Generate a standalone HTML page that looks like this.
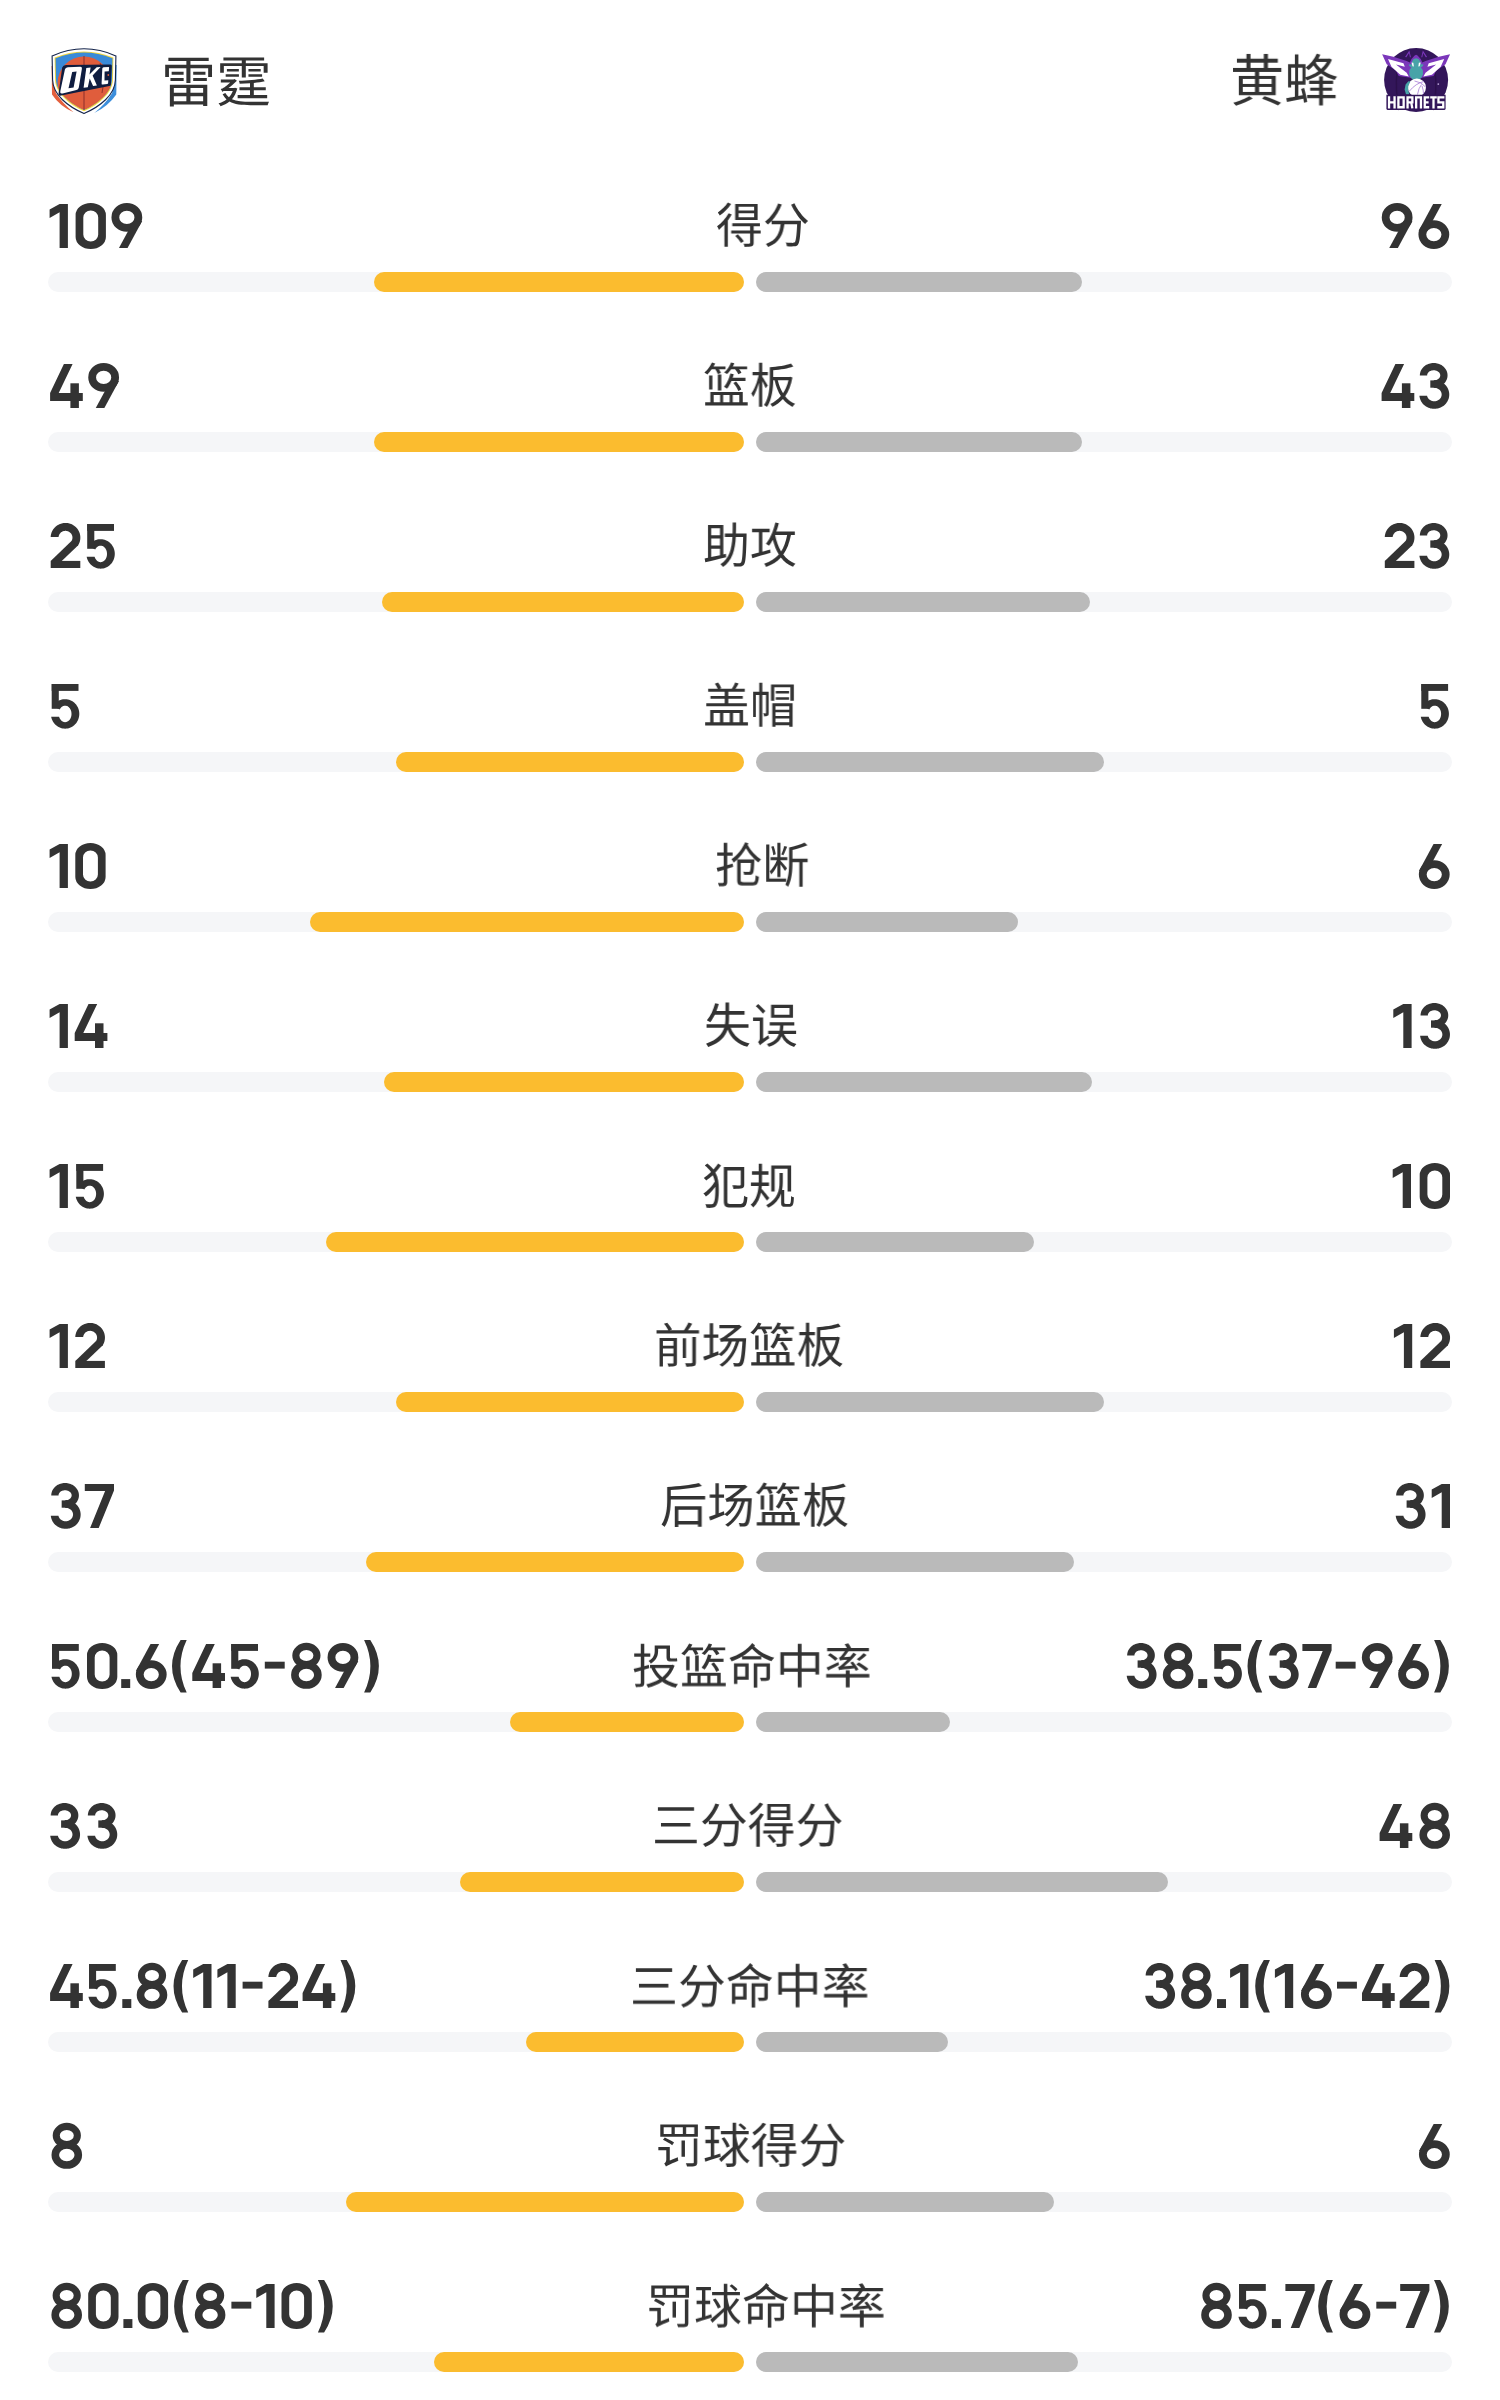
<!DOCTYPE html>
<html lang="zh-CN"><head><meta charset="utf-8"><style>
html,body{margin:0;padding:0;background:#fff;}
body{width:1500px;height:2400px;position:relative;overflow:hidden;font-family:"Liberation Sans",sans-serif;color:#333;text-rendering:geometricPrecision;}
span{position:absolute;white-space:nowrap;line-height:1;will-change:transform;transform-origin:0 0;}
.c{font-size:48px;}
.t{font-size:55px;}
.tr{position:absolute;height:20px;border-radius:10px;background:#f5f6f8;width:696px;}
.y{position:absolute;height:20px;border-radius:10px;background:#fbbc2f;}
.g{position:absolute;height:20px;border-radius:10px;background:#bababa;}
#num{position:absolute;left:0;top:0;}
</style></head><body>

<span class="t" style="left:160.51px;top:55.78px;transform:scale(1.0029,1.0082)">雷霆</span>
<span class="t" style="left:1229.82px;top:53.82px;transform:scale(0.9849,1.0197)">黄蜂</span>
<svg style="position:absolute;left:46px;top:44px" width="76" height="74" viewBox="0 0 76 74">
<defs><clipPath id="shin"><path d="M9.5,14.2 Q38,3 66.5,14.2 L66,36 C65.6,48.5 51,60 38,66 C25,60 10.4,48.5 10,36 Z"/></clipPath></defs>
<path d="M5.6,22 L9.6,22 L9.8,49 Q17,60 27.6,68.2 Q14,62.5 6,50.5 Z" fill="#e4603e"/>
<path d="M70.6,21 L66.4,21 L66.2,49 Q59,60.5 48.2,69 Q62,62.5 70.3,50.5 Z" fill="#3d8fdc"/>
<path d="M6.1,11.9 Q38,-2.3 69.9,11.9 L69.4,36 C69,51 54,62.5 38,69.6 C22,62.5 7,51 6.6,36 Z" fill="#fff" stroke="#13234a" stroke-width="1.1"/>
<path d="M8.6,13.6 Q38,1.2 67.4,13.6 L66.9,36 C66.5,49.5 52,61 38,67.3 C24,61 9.5,49.5 9.1,36 Z" fill="#f6d83a"/>
<g clip-path="url(#shin)">
<rect x="0" y="0" width="76" height="74" fill="#3a8ad8"/>
<circle cx="38" cy="38.8" r="26.4" fill="#e05d3c"/><path d="M14,52 Q38,80 62,52 L62,70 L14,70 Z" fill="#e05d3c"/>
<path d="M38,12 L38,70" stroke="#8c2f2b" stroke-width="1"/>
<path d="M54,19 Q60,32 56,49" stroke="#8c2f2b" stroke-width="0.9" fill="none"/>
</g>
<path d="M16.2,23.6 Q17,21.2 20,21 L64.6,20.6 Q66,20.6 65.8,22.2 L64.9,40.4 Q64.8,41.6 63.4,41.9 L15.2,51.6 Q12,52.3 12.6,49.2 Z" fill="#0f1d40"/>
<path fill-rule="evenodd" d="M18.9,25.6 Q19.4,23.4 21.8,23.3 L34.2,22.8 Q36.3,22.7 35.9,24.8 L32.8,43.4 Q32.4,45.5 30.4,45.9 L16.6,49.4 Q13.7,50.1 14.3,47.3 Z M26.2,27.9 L30.6,27.5 L27.6,43.4 L22.5,44.2 Z" fill="#fff"/>
<path d="M40.3,23.9 L44.6,23.6 L43.5,30.5 L50.7,23.3 L54.6,23.1 L46.6,31.4 L50.9,41.4 L47.1,42.1 L43.7,34.5 L41.8,43.2 L37.6,43.8 Z" fill="#fff"/>
<path d="M57.6,23.3 L62.6,23.0 Q63.2,23 63.1,23.8 L62.8,27.3 L58.6,27.6 L58.5,36.6 L62.3,36.2 L62.1,39.2 Q62,39.9 61.2,40 L56.8,40.6 Q55.5,40.7 55.6,39.4 L56.3,24.6 Q56.4,23.4 57.6,23.3 Z" fill="#fff"/>
<circle cx="62.3" cy="31" r="0.9" fill="#e05d3c"/>
</svg>
<svg style="position:absolute;left:1370px;top:40px" width="90" height="80" viewBox="0 0 90 80">
<circle cx="46.1" cy="40" r="32" fill="#33165a"/>
<path d="M27,32 Q25,50 29,70 M65.2,32 Q67.2,50 63.2,70" fill="none" stroke="#2b104b" stroke-width="1.4"/>
<path d="M12.13,14.13 L23.33,16.80 L36.67,21.07 L39.87,22.40 L41.47,18.93 L44.67,15.47 L46.10,14.80 L47.53,15.47 L50.73,18.93 L52.33,22.40 L55.53,21.07 L68.87,16.80 L80.07,14.13 L75.53,24.27 L66.20,30.67 L63.53,36.00 L52.87,37.60 L47.53,39.47 L46.10,40.50 L44.67,39.47 L39.33,37.60 L28.67,36.00 L26.00,30.67 L16.67,24.27 Z" fill="#7b37ba"/>
<path d="M18.00,18.93 L33.47,23.20 L34.80,26.67 L26.00,24.53 L30.80,28.27 L36.67,32.80 L38.80,36.53 L30.27,34.67 L21.47,26.67 Z" fill="#fff"/><path d="M74.20,18.93 L58.73,23.20 L57.40,26.67 L66.20,24.53 L61.40,28.27 L55.53,32.80 L53.40,36.53 L61.93,34.67 L70.73,26.67 Z" fill="#fff"/>
<path d="M35.07,17.07 L39.33,10.40 L40.93,17.33 L39.87,17.33 L39.07,13.07 L36.40,17.33 Z" fill="#7b37ba"/><path d="M57.13,17.07 L52.87,10.40 L51.27,17.33 L52.33,17.33 L53.13,13.07 L55.80,17.33 Z" fill="#7b37ba"/>
<path d="M46.10,18.20 L48.60,19.00 L50.20,21.50 L50.60,24.20 L53.60,24.60 L52.60,26.30 L50.80,27.60 L52.80,30.00 L53.00,34.50 L51.50,37.50 L49.50,39.60 L42.70,39.60 L40.70,37.50 L39.20,34.50 L39.40,30.00 L41.40,27.60 L39.60,26.30 L38.60,24.60 L41.60,24.20 L42.00,21.50 L43.60,19.00 Z" fill="#48a3a8"/>
<path d="M41.47,22.40 L43.33,22.67 L43.87,26.40 L42.53,26.13 Z" fill="#fff"/><path d="M50.73,22.40 L48.87,22.67 L48.33,26.40 L49.67,26.13 Z" fill="#fff"/>
<circle cx="46.9" cy="47.5" r="9.1" fill="#fff"/>
<path d="M38.40,41.20 L40.40,41.50 L38.30,46.00 L38.20,50.50 L39.40,54.20 L36.00,54.20 L34.60,49.50 L35.60,44.50 Z" fill="#48a3a8"/>
<path d="M39,51.5 Q46,43 54,41.5 M44.5,41 Q52,42 55.5,47 M47.5,54.5 Q48.5,48 51.5,44.5 M53.5,54 Q53.5,50 52,46" fill="none" stroke="#a77bd6" stroke-width="0.8"/>
<circle cx="68.3" cy="44.1" r="0.9" fill="#b9a6d6"/>
<path d="M16.4,54.7 L75.6,54.7 L75.6,68.5 Q75.6,70 74,70 L18,70 Q16.4,70 16.4,68.5 Z" fill="#33165a"/>
<g fill="none" stroke="#fff" stroke-width="2.3" stroke-linejoin="miter">
<path d="M19.05,56.3 L19.05,68.4 M24.55,56.3 L24.55,68.4 M19,62.3 L24.6,62.3"/>
<path d="M28.4,57.45 L33.65,57.45 L33.65,67.25 L28.4,67.25 Z"/>
<path d="M37.55,68.4 L37.55,57.45 L42.35,57.45 L42.35,62.4 L37.6,62.4 M41.2,62.4 L42.35,68.4"/>
<path d="M46.15,68.4 L46.15,57.45 L50.95,57.45 L50.95,68.4"/>
<path d="M59.2,57.45 L54.75,57.45 L54.75,67.25 L59.2,67.25 M54.7,62.3 L58.6,62.3"/>
<path d="M60.2,57.45 L66.8,57.45 M63.5,57.4 L63.5,68.4"/>
<path d="M74.4,57.45 L68.45,57.45 L68.45,62.3 L73.25,62.3 L73.25,67.25 L67.3,67.25"/>
</g>
</svg>
<div class="tr" style="left:48px;top:272px"></div><div class="tr" style="left:756px;top:272px"></div>
<div class="y" style="left:374.00px;top:272px;width:370.00px"></div>
<div class="g" style="left:756px;top:272px;width:326.00px"></div>
<span class="c" style="left:715.73px;top:203.85px;transform:scale(0.9763,1.0045)">得分</span>
<div class="tr" style="left:48px;top:432px"></div><div class="tr" style="left:756px;top:432px"></div>
<div class="y" style="left:374.00px;top:432px;width:370.00px"></div>
<div class="g" style="left:756px;top:432px;width:326.00px"></div>
<span class="c" style="left:703.29px;top:364.22px;transform:scale(0.9742,1.0000)">篮板</span>
<div class="tr" style="left:48px;top:592px"></div><div class="tr" style="left:756px;top:592px"></div>
<div class="y" style="left:382.00px;top:592px;width:362.00px"></div>
<div class="g" style="left:756px;top:592px;width:334.00px"></div>
<span class="c" style="left:702.68px;top:524.45px;transform:scale(0.9763,1.0023)">助攻</span>
<div class="tr" style="left:48px;top:752px"></div><div class="tr" style="left:756px;top:752px"></div>
<div class="y" style="left:396.00px;top:752px;width:348.00px"></div>
<div class="g" style="left:756px;top:752px;width:348.00px"></div>
<span class="c" style="left:702.52px;top:684.12px;transform:scale(0.9790,1.0023)">盖帽</span>
<div class="tr" style="left:48px;top:912px"></div><div class="tr" style="left:756px;top:912px"></div>
<div class="y" style="left:310.00px;top:912px;width:434.00px"></div>
<div class="g" style="left:756px;top:912px;width:262.00px"></div>
<span class="c" style="left:714.89px;top:844.40px;transform:scale(0.9838,0.9933)">抢断</span>
<div class="tr" style="left:48px;top:1072px"></div><div class="tr" style="left:756px;top:1072px"></div>
<div class="y" style="left:384.00px;top:1072px;width:360.00px"></div>
<div class="g" style="left:756px;top:1072px;width:336.00px"></div>
<span class="c" style="left:703.60px;top:1004.24px;transform:scale(0.9783,1.0023)">失误</span>
<div class="tr" style="left:48px;top:1232px"></div><div class="tr" style="left:756px;top:1232px"></div>
<div class="y" style="left:326.00px;top:1232px;width:418.00px"></div>
<div class="g" style="left:756px;top:1232px;width:278.00px"></div>
<span class="c" style="left:701.97px;top:1164.72px;transform:scale(0.9773,1.0114)">犯规</span>
<div class="tr" style="left:48px;top:1392px"></div><div class="tr" style="left:756px;top:1392px"></div>
<div class="y" style="left:396.00px;top:1392px;width:348.00px"></div>
<div class="g" style="left:756px;top:1392px;width:348.00px"></div>
<span class="c" style="left:654.14px;top:1324.22px;transform:scale(0.9899,1.0000)">前场篮板</span>
<div class="tr" style="left:48px;top:1552px"></div><div class="tr" style="left:756px;top:1552px"></div>
<div class="y" style="left:366.00px;top:1552px;width:378.00px"></div>
<div class="g" style="left:756px;top:1552px;width:318.00px"></div>
<span class="c" style="left:660.02px;top:1484.10px;transform:scale(0.9852,1.0000)">后场篮板</span>
<div class="tr" style="left:48px;top:1712px"></div><div class="tr" style="left:756px;top:1712px"></div>
<div class="y" style="left:510.00px;top:1712px;width:234.00px"></div>
<div class="g" style="left:756px;top:1712px;width:194.00px"></div>
<span class="c" style="left:632.44px;top:1645.00px;transform:scale(0.9987,0.9911)">投篮命中率</span>
<div class="tr" style="left:48px;top:1872px"></div><div class="tr" style="left:756px;top:1872px"></div>
<div class="y" style="left:460.00px;top:1872px;width:284.00px"></div>
<div class="g" style="left:756px;top:1872px;width:412.00px"></div>
<span class="c" style="left:652.36px;top:1803.85px;transform:scale(0.9968,1.0045)">三分得分</span>
<div class="tr" style="left:48px;top:2032px"></div><div class="tr" style="left:756px;top:2032px"></div>
<div class="y" style="left:526.00px;top:2032px;width:218.00px"></div>
<div class="g" style="left:756px;top:2032px;width:192.00px"></div>
<span class="c" style="left:629.93px;top:1965.00px;transform:scale(0.9979,0.9889)">三分命中率</span>
<div class="tr" style="left:48px;top:2192px"></div><div class="tr" style="left:756px;top:2192px"></div>
<div class="y" style="left:346.00px;top:2192px;width:398.00px"></div>
<div class="g" style="left:756px;top:2192px;width:298.00px"></div>
<span class="c" style="left:654.77px;top:2123.90px;transform:scale(0.9963,1.0023)">罚球得分</span>
<div class="tr" style="left:48px;top:2352px"></div><div class="tr" style="left:756px;top:2352px"></div>
<div class="y" style="left:434.00px;top:2352px;width:310.00px"></div>
<div class="g" style="left:756px;top:2352px;width:322.00px"></div>
<span class="c" style="left:646.47px;top:2285.02px;transform:scale(0.9991,0.9911)">罚球命中率</span>
<svg id="num" width="1500" height="2400" viewBox="0 0 1500 2400"><defs><g id="d0"><path fill-rule="evenodd" d="M0,11 A15.15,12 0 0 1 30.3,11 L30.3,33 A15.15,12 0 0 1 0,33 Z M7.7,13.6 A7.45,7.2 0 0 1 22.6,13.6 L22.6,30.4 A7.45,7.2 0 0 1 7.7,30.4 Z"/></g><g id="d1"><path d="M0,5.6 L10,0 L18.3,0 L18.3,44 L10,44 L10,8.2 L0,14 Z"/></g><g id="d2"><path d="M-0.04,13.00 L0.02,12.15 L0.13,11.31 L0.29,10.48 L0.50,9.65 L0.76,8.84 L1.06,8.04 L1.41,7.27 L1.80,6.51 L2.24,5.78 L2.72,5.08 L3.24,4.40 L3.80,3.76 L4.40,3.14 L5.03,2.57 L5.70,2.03 L6.39,1.53 L7.11,1.06 L7.86,0.65 L8.64,0.27 L9.43,-0.06 L10.24,-0.34 L11.07,-0.58 L11.91,-0.77 L12.76,-0.91 L13.61,-1.00 L14.47,-1.05 L15.33,-1.04 L16.19,-0.99 L17.05,-0.88 L17.89,-0.73 L18.73,-0.53 L19.55,-0.28 L20.36,0.02 L21.15,0.36 L21.92,0.74 L22.66,1.17 L23.38,1.64 L24.07,2.15 L24.72,2.70 L25.35,3.29 L25.94,3.91 L26.49,4.56 L27.00,5.24 L27.47,5.96 L27.90,6.69 L28.28,7.45 L28.62,8.23 L28.91,9.03 L29.15,9.85 L29.35,10.67 L29.50,11.51 L29.60,12.36 L29.64,13.20 L29.64,14.05 L29.59,14.90 L29.49,15.74 L29.34,16.58 L29.14,17.41 L28.89,18.22 L28.60,19.02 L28.26,19.80 L27.87,20.56 L27.44,21.29 L26.96,22.00 L20.49,17.47 L20.71,17.15 L20.91,16.81 L21.09,16.47 L21.25,16.12 L21.39,15.75 L21.50,15.38 L21.60,15.01 L21.67,14.63 L21.72,14.24 L21.74,13.86 L21.75,13.47 L21.73,13.09 L21.69,12.70 L21.62,12.32 L21.54,11.94 L21.43,11.57 L21.30,11.21 L21.15,10.85 L20.98,10.50 L20.78,10.16 L20.57,9.84 L20.34,9.52 L20.09,9.22 L19.82,8.94 L19.54,8.66 L19.24,8.41 L18.93,8.17 L18.60,7.95 L18.26,7.75 L17.91,7.56 L17.55,7.40 L17.18,7.26 L16.81,7.14 L16.42,7.04 L16.03,6.96 L15.64,6.90 L15.24,6.86 L14.85,6.85 L14.45,6.86 L14.05,6.89 L13.66,6.94 L13.27,7.02 L12.88,7.11 L12.50,7.23 L12.13,7.37 L11.77,7.53 L11.42,7.70 L11.07,7.90 L10.74,8.12 L10.43,8.35 L10.13,8.60 L9.84,8.87 L9.57,9.16 L9.32,9.45 L9.08,9.77 L8.86,10.09 L8.67,10.43 L8.49,10.77 L8.33,11.13 L8.20,11.49 L8.08,11.86 L7.99,12.24 L7.92,12.62 L7.88,13.00 Z"/><path d="M20.76,17.08 L27.53,21.15 L11.03,36.90 L0.00,36.90 Z"/><rect x="0" y="36.9" width="29.6" height="7.1"/></g><g id="d3"><path d="M0.55,11.60 L0.57,10.69 L0.66,9.78 L0.83,8.88 L1.07,7.99 L1.39,7.12 L1.77,6.28 L2.23,5.46 L2.75,4.67 L3.33,3.92 L3.98,3.21 L4.68,2.55 L5.44,1.93 L6.24,1.37 L7.09,0.86 L7.98,0.41 L8.91,0.01 L9.86,-0.32 L10.84,-0.58 L11.84,-0.79 L12.85,-0.92 L13.87,-0.99 L14.90,-0.99 L15.92,-0.93 L16.93,-0.79 L17.93,-0.59 L18.91,-0.33 L19.86,0.00 L20.79,0.39 L21.68,0.84 L22.53,1.35 L23.34,1.91 L24.09,2.53 L24.80,3.19 L25.45,3.90 L26.03,4.65 L26.56,5.43 L27.01,6.25 L27.40,7.09 L27.72,7.96 L27.96,8.85 L28.13,9.75 L28.23,10.66 L28.25,11.57 L28.19,12.48 L28.06,13.39 L27.85,14.28 L27.57,15.16 L27.22,16.02 L26.80,16.85 L26.31,17.65 L25.76,18.42 L25.14,19.15 L24.46,19.83 L23.73,20.47 L22.95,21.06 L22.12,21.60 L21.25,22.08 L20.35,22.50 L19.40,22.87 L18.44,23.16 L17.45,23.40 L16.44,23.57 L15.42,23.67 L14.40,23.70 L14.40,16.40 L14.89,16.39 L15.37,16.34 L15.85,16.27 L16.32,16.18 L16.78,16.05 L17.23,15.91 L17.66,15.73 L18.07,15.53 L18.47,15.31 L18.84,15.07 L19.18,14.80 L19.50,14.52 L19.79,14.22 L20.05,13.90 L20.28,13.57 L20.48,13.22 L20.65,12.87 L20.78,12.51 L20.87,12.14 L20.93,11.77 L20.95,11.39 L20.94,11.02 L20.89,10.64 L20.80,10.27 L20.68,9.91 L20.52,9.55 L20.33,9.21 L20.11,8.87 L19.85,8.55 L19.57,8.25 L19.26,7.96 L18.92,7.69 L18.55,7.44 L18.16,7.22 L17.75,7.01 L17.33,6.83 L16.88,6.68 L16.42,6.55 L15.96,6.44 L15.48,6.37 L15.00,6.32 L14.51,6.30 L14.02,6.31 L13.54,6.34 L13.06,6.41 L12.58,6.50 L12.12,6.62 L11.67,6.76 L11.24,6.93 L10.82,7.12 L10.42,7.34 L10.04,7.58 L9.69,7.84 L9.37,8.12 L9.07,8.42 L8.80,8.73 L8.56,9.06 L8.36,9.40 L8.19,9.75 L8.05,10.11 L7.95,10.48 L7.88,10.85 L7.85,11.22 L7.86,11.60 Z"/><path d="M15.00,16.25 L16.08,16.29 L17.15,16.40 L18.22,16.58 L19.26,16.84 L20.28,17.17 L21.28,17.57 L22.24,18.04 L23.17,18.57 L24.05,19.17 L24.89,19.82 L25.67,20.53 L26.40,21.30 L27.07,22.11 L27.67,22.96 L28.21,23.86 L28.68,24.79 L29.08,25.75 L29.41,26.74 L29.66,27.74 L29.83,28.76 L29.93,29.79 L29.95,30.82 L29.89,31.85 L29.75,32.88 L29.54,33.89 L29.25,34.89 L28.88,35.86 L28.44,36.80 L27.94,37.72 L27.36,38.59 L26.72,39.42 L26.02,40.21 L25.27,40.95 L24.45,41.63 L23.59,42.25 L22.69,42.81 L21.74,43.31 L20.76,43.75 L19.75,44.11 L18.71,44.40 L17.66,44.62 L16.59,44.77 L15.51,44.84 L14.43,44.84 L13.35,44.76 L12.29,44.61 L11.23,44.39 L10.20,44.09 L9.19,43.72 L8.21,43.29 L7.26,42.79 L6.36,42.22 L5.50,41.59 L4.69,40.91 L3.94,40.17 L3.24,39.38 L2.61,38.55 L2.03,37.67 L1.53,36.76 L1.10,35.81 L0.74,34.83 L0.45,33.84 L0.24,32.83 L0.11,31.80 L7.78,31.80 L7.89,32.26 L8.04,32.72 L8.23,33.16 L8.45,33.59 L8.70,34.00 L8.98,34.40 L9.30,34.78 L9.64,35.13 L10.01,35.47 L10.40,35.78 L10.82,36.06 L11.25,36.31 L11.71,36.54 L12.18,36.74 L12.67,36.90 L13.17,37.04 L13.68,37.14 L14.19,37.21 L14.71,37.24 L15.23,37.25 L15.75,37.22 L16.26,37.15 L16.77,37.05 L17.27,36.92 L17.76,36.76 L18.23,36.57 L18.69,36.35 L19.13,36.09 L19.55,35.81 L19.94,35.51 L20.32,35.18 L20.66,34.82 L20.98,34.45 L21.27,34.05 L21.52,33.64 L21.74,33.21 L21.93,32.77 L22.09,32.32 L22.21,31.86 L22.29,31.39 L22.34,30.92 L22.35,30.45 L22.32,29.97 L22.26,29.50 L22.16,29.04 L22.03,28.58 L21.86,28.13 L21.65,27.70 L21.41,27.28 L21.14,26.87 L20.84,26.49 L20.51,26.12 L20.16,25.78 L19.77,25.46 L19.37,25.16 L18.94,24.89 L18.49,24.65 L18.03,24.44 L17.54,24.26 L17.05,24.12 L16.55,24.00 L16.04,23.92 L15.52,23.87 L15.00,23.85 Z"/><rect x="11" y="16.4" width="5.5" height="7.3"/></g><g id="d4"><path d="M13.8,0 L22.5,0 L8.6,29 L32.7,29 L32.7,36.9 L0,36.9 L0,29 Z"/><rect x="20.3" y="19.3" width="8.5" height="24.7"/></g><g id="d5"><path d="M2.16,22.08 L2.85,21.03 L3.63,20.05 L4.49,19.14 L5.42,18.31 L6.42,17.56 L7.47,16.91 L8.58,16.36 L9.73,15.90 L10.91,15.55 L12.11,15.31 L13.33,15.18 L14.56,15.15 L15.78,15.24 L17.00,15.44 L18.19,15.74 L19.35,16.15 L20.47,16.67 L21.55,17.28 L22.57,17.99 L23.53,18.78 L24.42,19.66 L25.23,20.62 L25.96,21.64 L26.61,22.73 L27.16,23.87 L27.61,25.05 L27.96,26.27 L28.21,27.52 L28.36,28.79 L28.40,30.06 L28.33,31.33 L28.16,32.60 L27.88,33.84 L27.51,35.05 L27.03,36.22 L26.45,37.35 L25.79,38.42 L25.04,39.43 L24.20,40.37 L23.30,41.23 L22.32,42.00 L21.29,42.68 L20.20,43.27 L19.06,43.76 L17.89,44.14 L16.69,44.42 L15.48,44.59 L14.25,44.65 L13.02,44.60 L11.81,44.44 L10.61,44.17 L9.43,43.79 L8.30,43.32 L7.20,42.74 L6.16,42.06 L5.18,41.29 L4.27,40.44 L3.43,39.51 L2.67,38.51 L2.00,37.44 L1.42,36.32 L0.93,35.15 L0.54,33.94 L0.26,32.70 L8.18,32.70 L8.38,33.34 L8.63,33.96 L8.91,34.55 L9.23,35.10 L9.59,35.62 L9.98,36.10 L10.40,36.54 L10.84,36.92 L11.31,37.26 L11.80,37.55 L12.31,37.78 L12.83,37.96 L13.36,38.08 L13.89,38.14 L14.43,38.14 L14.97,38.09 L15.50,37.98 L16.02,37.81 L16.53,37.59 L17.02,37.31 L17.49,36.97 L17.94,36.59 L18.36,36.17 L18.76,35.69 L19.12,35.18 L19.44,34.63 L19.73,34.04 L19.98,33.43 L20.19,32.79 L20.36,32.13 L20.48,31.46 L20.56,30.77 L20.60,30.08 L20.59,29.39 L20.53,28.70 L20.43,28.02 L20.29,27.35 L20.10,26.70 L19.87,26.07 L19.60,25.47 L19.29,24.91 L18.95,24.37 L18.57,23.88 L18.17,23.43 L17.73,23.02 L17.27,22.66 L16.79,22.35 L16.29,22.10 L15.77,21.90 L15.25,21.76 L14.71,21.68 L14.18,21.65 L13.64,21.68 L13.11,21.77 L12.58,21.92 L12.07,22.12 L11.57,22.38 L11.09,22.69 L10.63,23.05 L10.19,23.47 L9.79,23.92 L9.42,24.42 L9.08,24.96 L8.77,25.53 Z"/><rect x="0.8" y="0" width="26.8" height="6.9"/><rect x="0.8" y="0" width="7.1" height="24.8"/></g><g id="d6"><ellipse cx="15.55" cy="30.6" rx="11.5" ry="10.5" fill="none" stroke="#333" stroke-width="7.8"/><path d="M14.85,0.00 L23.45,0.00 L8.84,27.00 L0.24,27.00 Z"/></g><g id="d9"><g transform="rotate(180 15.6 22)"><ellipse cx="15.55" cy="30.6" rx="11.5" ry="10.5" fill="none" stroke="#333" stroke-width="7.8"/><path d="M14.85,0.00 L23.45,0.00 L8.84,27.00 L0.24,27.00 Z"/></g></g><g id="d7"><path d="M0,0 L29.2,0 L29.2,6.6 L13.9,44 L5.3,44 L20.3,7.1 L0,7.1 Z"/></g><g id="d8"><ellipse cx="15.3" cy="11.5" rx="10.55" ry="9.1" fill="none" stroke="#333" stroke-width="7.1"/><ellipse cx="15.3" cy="30.95" rx="11.5" ry="10.1" fill="none" stroke="#333" stroke-width="7.6"/></g><g id="dp"><rect x="0" y="35.1" width="9" height="8.9"/></g><g id="dm"><rect x="0" y="17.7" width="19.9" height="6.9"/></g><g id="dl"><path d="M8.6,-4 Q-8.6,22.3 8.6,48.6 L14.7,48.6 Q2.2,22.3 14.7,-4 Z"/></g><g id="dr"><path d="M6.3,-4 Q23.5,22.3 6.3,48.6 L0.1,48.6 Q12.7,22.3 0.1,-4 Z"/></g></defs><g fill="#333"><use href="#d1" xlink:href="#d1" x="49.6" y="204"/><use href="#d0" xlink:href="#d0" x="75.6" y="204"/><use href="#d9" xlink:href="#d9" x="111.2" y="204"/><use href="#d9" xlink:href="#d9" x="1381.5" y="204"/><use href="#d6" xlink:href="#d6" x="1418.3" y="204"/><use href="#d4" xlink:href="#d4" x="50.1" y="364"/><use href="#d9" xlink:href="#d9" x="88.0" y="364"/><use href="#d4" xlink:href="#d4" x="1381.6" y="364"/><use href="#d3" xlink:href="#d3" x="1419.3" y="364"/><use href="#d2" xlink:href="#d2" x="50.7" y="524"/><use href="#d5" xlink:href="#d5" x="86.4" y="524"/><use href="#d2" xlink:href="#d2" x="1384.8" y="524"/><use href="#d3" xlink:href="#d3" x="1419.3" y="524"/><use href="#d5" xlink:href="#d5" x="50.9" y="684"/><use href="#d5" xlink:href="#d5" x="1420.5" y="684"/><use href="#d1" xlink:href="#d1" x="49.6" y="844"/><use href="#d0" xlink:href="#d0" x="75.3" y="844"/><use href="#d6" xlink:href="#d6" x="1418.7" y="844"/><use href="#d1" xlink:href="#d1" x="49.6" y="1004"/><use href="#d4" xlink:href="#d4" x="74.7" y="1004"/><use href="#d1" xlink:href="#d1" x="1393.3" y="1004"/><use href="#d3" xlink:href="#d3" x="1420.0" y="1004"/><use href="#d1" xlink:href="#d1" x="49.6" y="1164"/><use href="#d5" xlink:href="#d5" x="75.5" y="1164"/><use href="#d1" xlink:href="#d1" x="1392.7" y="1164"/><use href="#d0" xlink:href="#d0" x="1419.7" y="1164"/><use href="#d1" xlink:href="#d1" x="49.6" y="1324"/><use href="#d2" xlink:href="#d2" x="75.3" y="1324"/><use href="#d1" xlink:href="#d1" x="1393.9" y="1324"/><use href="#d2" xlink:href="#d2" x="1420.4" y="1324"/><use href="#d3" xlink:href="#d3" x="50.7" y="1484"/><use href="#d7" xlink:href="#d7" x="84.8" y="1484"/><use href="#d3" xlink:href="#d3" x="1395.6" y="1484"/><use href="#d1" xlink:href="#d1" x="1431.7" y="1484"/><use href="#d5" xlink:href="#d5" x="51.2" y="1644"/><use href="#d0" xlink:href="#d0" x="87" y="1644"/><use href="#dp" xlink:href="#dp" x="121.2" y="1644"/><use href="#d6" xlink:href="#d6" x="135.7" y="1644"/><use href="#dl" xlink:href="#dl" x="172" y="1644"/><use href="#d4" xlink:href="#d4" x="192.3" y="1644"/><use href="#d5" xlink:href="#d5" x="230.4" y="1644"/><use href="#dm" xlink:href="#dm" x="264.8" y="1644"/><use href="#d8" xlink:href="#d8" x="291.1" y="1644"/><use href="#d9" xlink:href="#d9" x="327.3" y="1644"/><use href="#dr" xlink:href="#dr" x="364" y="1644"/><use href="#d3" xlink:href="#d3" x="1126.6" y="1644"/><use href="#d8" xlink:href="#d8" x="1162.8" y="1644"/><use href="#dp" xlink:href="#dp" x="1198.2" y="1644"/><use href="#d5" xlink:href="#d5" x="1213.5" y="1644"/><use href="#dl" xlink:href="#dl" x="1247.5" y="1644"/><use href="#d3" xlink:href="#d3" x="1268.7" y="1644"/><use href="#d7" xlink:href="#d7" x="1302.4" y="1644"/><use href="#dm" xlink:href="#dm" x="1335.7" y="1644"/><use href="#d9" xlink:href="#d9" x="1361.6" y="1644"/><use href="#d6" xlink:href="#d6" x="1398" y="1644"/><use href="#dr" xlink:href="#dr" x="1434" y="1644"/><use href="#d3" xlink:href="#d3" x="50.1" y="1804"/><use href="#d3" xlink:href="#d3" x="87.3" y="1804"/><use href="#d4" xlink:href="#d4" x="1379.6" y="1804"/><use href="#d8" xlink:href="#d8" x="1419.4" y="1804"/><use href="#d4" xlink:href="#d4" x="50.1" y="1964"/><use href="#d5" xlink:href="#d5" x="88.2" y="1964"/><use href="#dp" xlink:href="#dp" x="122.3" y="1964"/><use href="#d8" xlink:href="#d8" x="136.7" y="1964"/><use href="#dl" xlink:href="#dl" x="173.5" y="1964"/><use href="#d1" xlink:href="#d1" x="193.2" y="1964"/><use href="#d1" xlink:href="#d1" x="217.4" y="1964"/><use href="#dm" xlink:href="#dm" x="242.6" y="1964"/><use href="#d2" xlink:href="#d2" x="268.4" y="1964"/><use href="#d4" xlink:href="#d4" x="302.6" y="1964"/><use href="#dr" xlink:href="#dr" x="340.4" y="1964"/><use href="#d3" xlink:href="#d3" x="1145.1" y="1964"/><use href="#d8" xlink:href="#d8" x="1181.1" y="1964"/><use href="#dp" xlink:href="#dp" x="1217" y="1964"/><use href="#d1" xlink:href="#d1" x="1230.1" y="1964"/><use href="#dl" xlink:href="#dl" x="1255.2" y="1964"/><use href="#d1" xlink:href="#d1" x="1274.9" y="1964"/><use href="#d6" xlink:href="#d6" x="1300.8" y="1964"/><use href="#dm" xlink:href="#dm" x="1337" y="1964"/><use href="#d4" xlink:href="#d4" x="1362" y="1964"/><use href="#d2" xlink:href="#d2" x="1399.7" y="1964"/><use href="#dr" xlink:href="#dr" x="1434.5" y="1964"/><use href="#d8" xlink:href="#d8" x="51.5" y="2124"/><use href="#d6" xlink:href="#d6" x="1418.8" y="2124"/><use href="#d8" xlink:href="#d8" x="51.4" y="2284"/><use href="#d0" xlink:href="#d0" x="88.2" y="2284"/><use href="#dp" xlink:href="#dp" x="123.4" y="2284"/><use href="#d0" xlink:href="#d0" x="137.8" y="2284"/><use href="#dl" xlink:href="#dl" x="174.1" y="2284"/><use href="#d8" xlink:href="#d8" x="194.8" y="2284"/><use href="#dm" xlink:href="#dm" x="231.4" y="2284"/><use href="#d1" xlink:href="#d1" x="256.3" y="2284"/><use href="#d0" xlink:href="#d0" x="281.5" y="2284"/><use href="#dr" xlink:href="#dr" x="317.8" y="2284"/><use href="#d8" xlink:href="#d8" x="1201.2" y="2284"/><use href="#d5" xlink:href="#d5" x="1238.2" y="2284"/><use href="#dp" xlink:href="#dp" x="1271.9" y="2284"/><use href="#d7" xlink:href="#d7" x="1285.4" y="2284"/><use href="#dl" xlink:href="#dl" x="1318.2" y="2284"/><use href="#d6" xlink:href="#d6" x="1339.4" y="2284"/><use href="#dm" xlink:href="#dm" x="1376.3" y="2284"/><use href="#d7" xlink:href="#d7" x="1400.2" y="2284"/><use href="#dr" xlink:href="#dr" x="1433.9" y="2284"/></g></svg>
</body></html>
